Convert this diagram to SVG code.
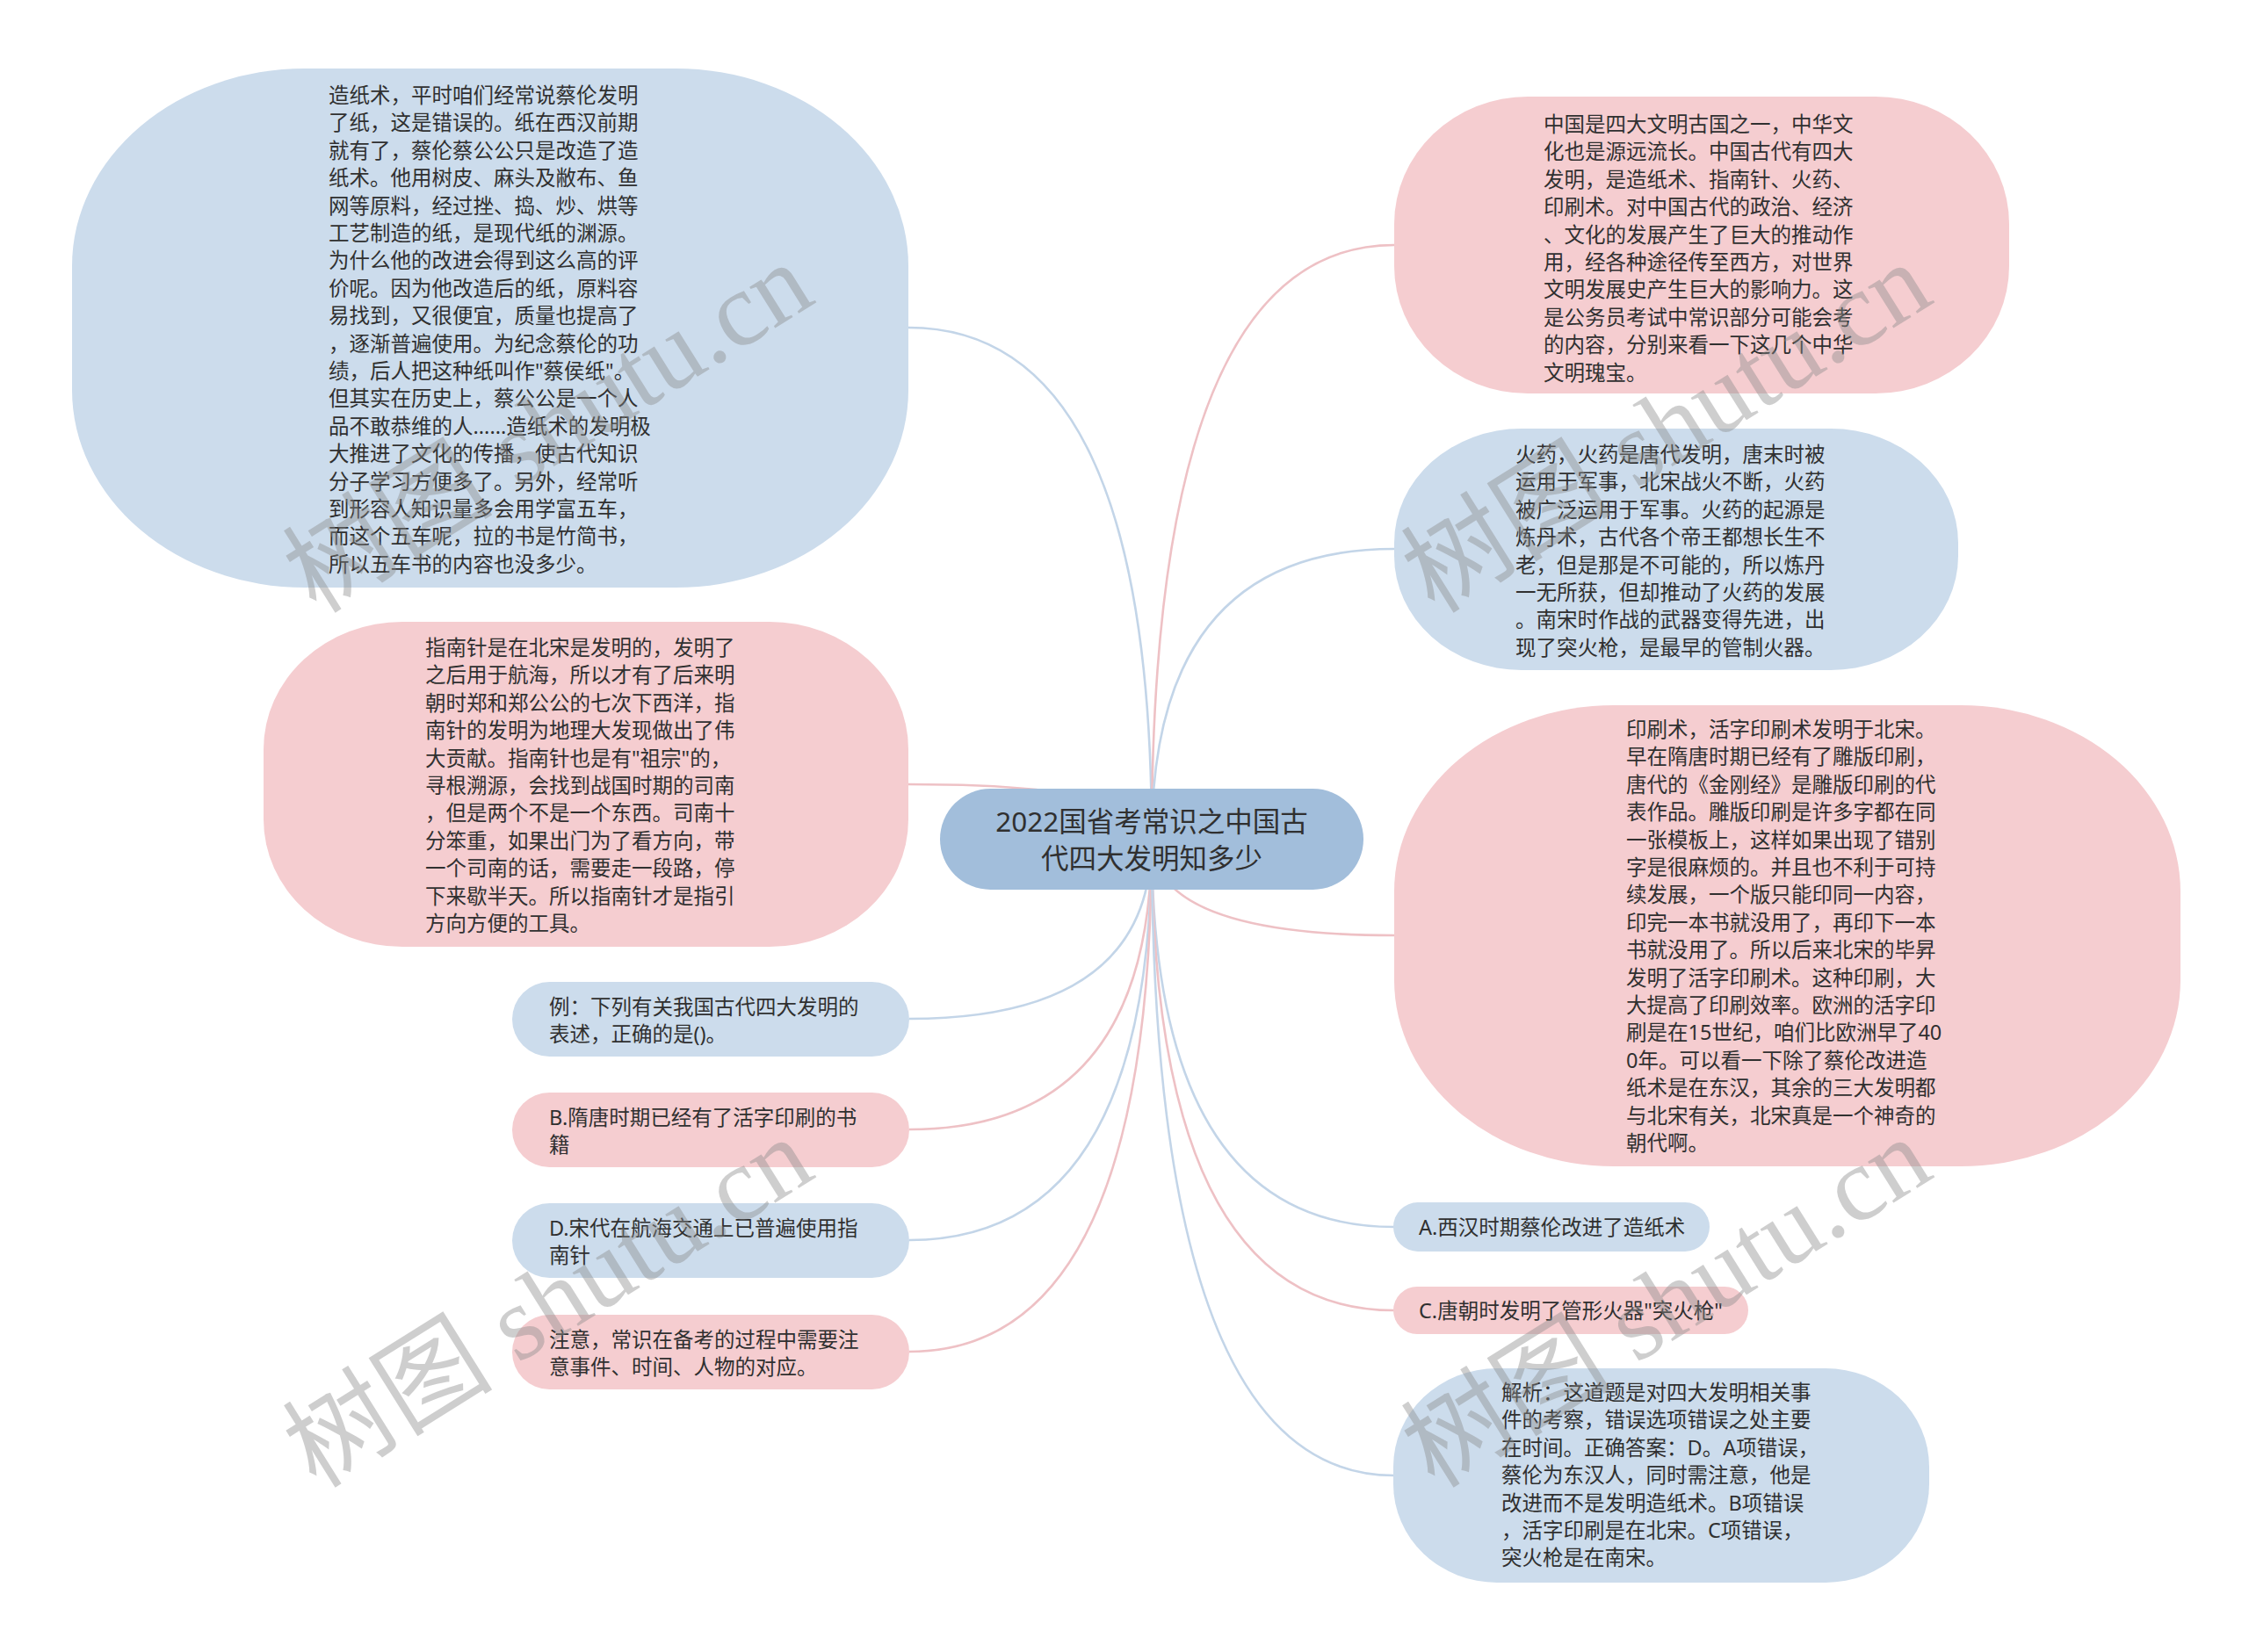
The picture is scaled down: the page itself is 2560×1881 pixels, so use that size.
<svg xmlns="http://www.w3.org/2000/svg" width="2560" height="1881" viewBox="0 0 2560 1881">
<style>
.bg{fill:#ffffff}
.blue{fill:#ccdcec}
.pink{fill:#f5cdd0}
.root{fill:#a2bedb}
.lb{fill:none;stroke:#c3d5e8;stroke-width:2.6}
.lp{fill:none;stroke:#eec1c5;stroke-width:2.6}
.t{font-family:"Noto Sans","Noto Sans CJK SC",sans-serif;font-size:23.5px;fill:#303030}
.rt{font-family:"Noto Sans","Noto Sans CJK SC",sans-serif;font-size:31.5px;fill:#303030;text-anchor:middle}
.wm{font-family:"Liberation Serif","Noto Sans CJK SC",serif;font-size:120px;fill:#8a8a8a;fill-opacity:0.42}
</style>
<rect class="bg" x="0" y="0" width="2560" height="1881"/>
<g id="connectors">
<path class="lb" d="M1311 955 Q1311 373 1034 373"/>
<path class="lp" d="M1311 955 Q1311 893 1034 893"/>
<path class="lb" d="M1311 955 Q1311 1160 1035 1160"/>
<path class="lp" d="M1311 955 Q1311 1286 1035 1286"/>
<path class="lb" d="M1311 955 Q1311 1412 1035 1412"/>
<path class="lp" d="M1311 955 Q1311 1539 1035 1539"/>
<path class="lp" d="M1311 955 Q1311 279 1587 279"/>
<path class="lb" d="M1311 955 Q1311 625 1587 625"/>
<path class="lp" d="M1311 955 Q1311 1065 1587 1065"/>
<path class="lb" d="M1311 955 Q1311 1397 1587 1397"/>
<path class="lp" d="M1311 955 Q1311 1492 1587 1492"/>
<path class="lb" d="M1311 955 Q1311 1680 1587 1680"/>
</g>
<g id="root">
<rect class="root" x="1070" y="898" width="482" height="115" rx="57.5"/>
<text class="rt"><tspan x="1311" y="947">2022国省考常识之中国古</tspan><tspan x="1311" y="989">代四大发明知多少</tspan></text>
</g>
<g id="node-zaozhi">
<rect class="blue" x="82" y="78" width="952" height="591" rx="265" ry="225"/>
<text class="t"><tspan x="374" y="117">造纸术，平时咱们经常说蔡伦发明</tspan><tspan x="374" y="148.4">了纸，这是错误的。纸在西汉前期</tspan><tspan x="374" y="179.8">就有了，蔡伦蔡公公只是改造了造</tspan><tspan x="374" y="211.2">纸术。他用树皮、麻头及敝布、鱼</tspan><tspan x="374" y="242.6">网等原料，经过挫、捣、炒、烘等</tspan><tspan x="374" y="274">工艺制造的纸，是现代纸的渊源。</tspan><tspan x="374" y="305.4">为什么他的改进会得到这么高的评</tspan><tspan x="374" y="336.8">价呢。因为他改造后的纸，原料容</tspan><tspan x="374" y="368.2">易找到，又很便宜，质量也提高了</tspan><tspan x="374" y="399.6">，逐渐普遍使用。为纪念蔡伦的功</tspan><tspan x="374" y="431">绩，后人把这种纸叫作"蔡侯纸"。</tspan><tspan x="374" y="462.4">但其实在历史上，蔡公公是一个人</tspan><tspan x="374" y="493.8">品不敢恭维的人......造纸术的发明极</tspan><tspan x="374" y="525.2">大推进了文化的传播，使古代知识</tspan><tspan x="374" y="556.6">分子学习方便多了。另外，经常听</tspan><tspan x="374" y="588">到形容人知识量多会用学富五车，</tspan><tspan x="374" y="619.4">而这个五车呢，拉的书是竹简书，</tspan><tspan x="374" y="650.8">所以五车书的内容也没多少。</tspan></text>
</g>
<g id="node-zhinan">
<rect class="pink" x="300" y="708" width="734" height="370" rx="158" ry="145"/>
<text class="t"><tspan x="484" y="746">指南针是在北宋是发明的，发明了</tspan><tspan x="484" y="777.4">之后用于航海，所以才有了后来明</tspan><tspan x="484" y="808.8">朝时郑和郑公公的七次下西洋，指</tspan><tspan x="484" y="840.2">南针的发明为地理大发现做出了伟</tspan><tspan x="484" y="871.6">大贡献。指南针也是有"祖宗"的，</tspan><tspan x="484" y="903">寻根溯源，会找到战国时期的司南</tspan><tspan x="484" y="934.4">，但是两个不是一个东西。司南十</tspan><tspan x="484" y="965.8">分笨重，如果出门为了看方向，带</tspan><tspan x="484" y="997.2">一个司南的话，需要走一段路，停</tspan><tspan x="484" y="1028.6">下来歇半天。所以指南针才是指引</tspan><tspan x="484" y="1060">方向方便的工具。</tspan></text>
</g>
<g id="node-li">
<rect class="blue" x="583" y="1118" width="452" height="85" rx="42.5"/>
<text class="t"><tspan x="625" y="1155">例：下列有关我国古代四大发明的</tspan><tspan x="625" y="1186">表述，正确的是()。</tspan></text>
</g>
<g id="node-b">
<rect class="pink" x="583" y="1244" width="452" height="85" rx="42.5"/>
<text class="t"><tspan x="625" y="1281">B.隋唐时期已经有了活字印刷的书</tspan><tspan x="625" y="1312">籍</tspan></text>
</g>
<g id="node-d">
<rect class="blue" x="583" y="1370" width="452" height="85" rx="42.5"/>
<text class="t"><tspan x="625" y="1407">D.宋代在航海交通上已普遍使用指</tspan><tspan x="625" y="1438">南针</tspan></text>
</g>
<g id="node-zhuyi">
<rect class="pink" x="583" y="1497" width="452" height="85" rx="42.5"/>
<text class="t"><tspan x="625" y="1534">注意，常识在备考的过程中需要注</tspan><tspan x="625" y="1565">意事件、时间、人物的对应。</tspan></text>
</g>
<g id="node-intro">
<rect class="pink" x="1587" y="110" width="700" height="338" rx="152" ry="145"/>
<text class="t"><tspan x="1757" y="150">中国是四大文明古国之一，中华文</tspan><tspan x="1757" y="181.4">化也是源远流长。中国古代有四大</tspan><tspan x="1757" y="212.8">发明，是造纸术、指南针、火药、</tspan><tspan x="1757" y="244.2">印刷术。对中国古代的政治、经济</tspan><tspan x="1757" y="275.6">、文化的发展产生了巨大的推动作</tspan><tspan x="1757" y="307">用，经各种途径传至西方，对世界</tspan><tspan x="1757" y="338.4">文明发展史产生巨大的影响力。这</tspan><tspan x="1757" y="369.8">是公务员考试中常识部分可能会考</tspan><tspan x="1757" y="401.2">的内容，分别来看一下这几个中华</tspan><tspan x="1757" y="432.6">文明瑰宝。</tspan></text>
</g>
<g id="node-huoyao">
<rect class="blue" x="1587" y="488" width="642" height="275" rx="145" ry="130"/>
<text class="t"><tspan x="1725" y="526">火药，火药是唐代发明，唐末时被</tspan><tspan x="1725" y="557.4">运用于军事，北宋战火不断，火药</tspan><tspan x="1725" y="588.8">被广泛运用于军事。火药的起源是</tspan><tspan x="1725" y="620.2">炼丹术，古代各个帝王都想长生不</tspan><tspan x="1725" y="651.6">老，但是那是不可能的，所以炼丹</tspan><tspan x="1725" y="683">一无所获，但却推动了火药的发展</tspan><tspan x="1725" y="714.4">。南宋时作战的武器变得先进，出</tspan><tspan x="1725" y="745.8">现了突火枪，是最早的管制火器。</tspan></text>
</g>
<g id="node-yinshua">
<rect class="pink" x="1587" y="803" width="895" height="525" rx="250" ry="212"/>
<text class="t"><tspan x="1851" y="839">印刷术，活字印刷术发明于北宋。</tspan><tspan x="1851" y="870.4">早在隋唐时期已经有了雕版印刷，</tspan><tspan x="1851" y="901.8">唐代的《金刚经》是雕版印刷的代</tspan><tspan x="1851" y="933.2">表作品。雕版印刷是许多字都在同</tspan><tspan x="1851" y="964.6">一张模板上，这样如果出现了错别</tspan><tspan x="1851" y="996">字是很麻烦的。并且也不利于可持</tspan><tspan x="1851" y="1027.4">续发展，一个版只能印同一内容，</tspan><tspan x="1851" y="1058.8">印完一本书就没用了，再印下一本</tspan><tspan x="1851" y="1090.2">书就没用了。所以后来北宋的毕昇</tspan><tspan x="1851" y="1121.6">发明了活字印刷术。这种印刷，大</tspan><tspan x="1851" y="1153">大提高了印刷效率。欧洲的活字印</tspan><tspan x="1851" y="1184.4">刷是在15世纪，咱们比欧洲早了40</tspan><tspan x="1851" y="1215.8">0年。可以看一下除了蔡伦改进造</tspan><tspan x="1851" y="1247.2">纸术是在东汉，其余的三大发明都</tspan><tspan x="1851" y="1278.6">与北宋有关，北宋真是一个神奇的</tspan><tspan x="1851" y="1310">朝代啊。</tspan></text>
</g>
<g id="node-a">
<rect class="blue" x="1586" y="1369" width="360" height="56" rx="28"/>
<text class="t" x="1615" y="1406">A.西汉时期蔡伦改进了造纸术</text>
</g>
<g id="node-c">
<rect class="pink" x="1586" y="1465" width="404" height="54" rx="27"/>
<text class="t" x="1615" y="1501">C.唐朝时发明了管形火器"突火枪"</text>
</g>
<g id="node-jiexi">
<rect class="blue" x="1586" y="1558" width="610" height="244" rx="118" ry="112"/>
<text class="t"><tspan x="1709" y="1594">解析：这道题是对四大发明相关事</tspan><tspan x="1709" y="1625.4">件的考察，错误选项错误之处主要</tspan><tspan x="1709" y="1656.8">在时间。正确答案：D。A项错误，</tspan><tspan x="1709" y="1688.2">蔡伦为东汉人，同时需注意，他是</tspan><tspan x="1709" y="1719.6">改进而不是发明造纸术。B项错误</tspan><tspan x="1709" y="1751">，活字印刷是在北宋。C项错误，</tspan><tspan x="1709" y="1782.4">突火枪是在南宋。</tspan></text>
</g>
<g id="watermarks">
<text class="wm" transform="translate(360 700) rotate(-32)">树图 shutu.cn</text>
<text class="wm" transform="translate(1633 700) rotate(-32)">树图 shutu.cn</text>
<text class="wm" transform="translate(360 1696) rotate(-32)">树图 shutu.cn</text>
<text class="wm" transform="translate(1633 1696) rotate(-32)">树图 shutu.cn</text>
</g>
</svg>
